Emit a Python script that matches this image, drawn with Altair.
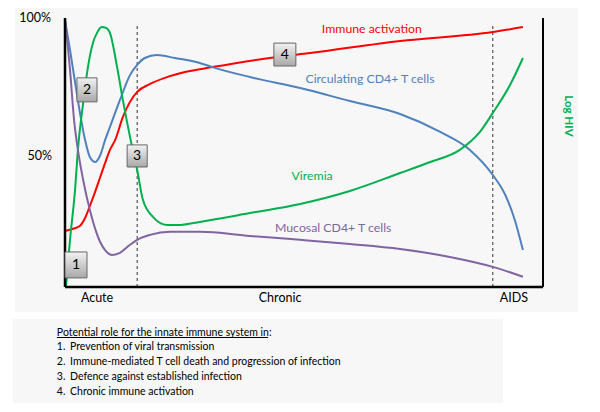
import altair as alt
import pandas as pd

# ---- series (time 0-100, level in %) ----
immune_t = [0, 1.7, 3.1, 4.2, 5.2, 6.3, 7.3, 8.4, 9.4, 10.5, 12.1, 13.6, 15.1, 17.8, 20.9, 25.1, 30.8, 44.4, 51.3, 70.1, 89.5, 95.8]
immune_v = [22.8, 23.6, 24.6, 27.5, 31.9, 37.0, 42.0, 47.5, 52.2, 55.8, 64.1, 69.6, 73.2, 76.1, 78.3, 80.4, 82.2, 85.9, 87.3, 91.7, 94.9, 96.7]

circ_t = [0, 1.05, 2.1, 3.1, 4.2, 5.2, 6.3, 7.3, 8.4, 9.4, 11.5, 13.6, 15.1, 16.7, 19.2, 23.0, 28.2, 30.8, 38.7, 49.2, 59.6, 70.1, 78.5, 84.7, 89.5, 92.1, 94.1, 95.8]
circ_v = [99.3, 88.4, 76.8, 65.9, 55.8, 49.6, 47.8, 50.0, 55.8, 60.5, 70.3, 79.3, 83.0, 85.5, 86.6, 85.5, 83.7, 82.2, 78.6, 74.6, 69.9, 65.2, 58.7, 52.2, 43.1, 35.9, 26.8, 15.9]

muc_t = [0, 1.05, 1.9, 2.7, 3.8, 5.2, 7.3, 8.6, 9.8, 11.5, 13.6, 15.1, 17.8, 22.0, 28.2, 38.7, 49.2, 59.6, 70.1, 80.5, 89.5, 95.8]
muc_v = [100, 81.2, 63.0, 52.2, 41.3, 30.4, 19.0, 15.4, 14.1, 14.9, 17.8, 19.6, 21.4, 22.5, 22.5, 21.0, 19.6, 18.1, 16.3, 13.4, 9.8, 6.2]

vir_t = [0.2, 1.05, 2.1, 2.7, 3.8, 4.8, 5.9, 6.7, 7.7, 8.6, 9.4, 10.9, 12.1, 13.6, 15.1, 16.3, 18.4, 21.3, 24.1, 28.2, 38.7, 49.2, 59.6, 70.1, 76.4, 82.6, 86.8, 89.5, 93.1, 95.8]
vir_v = [2.5, 19.6, 37.7, 52.2, 69.2, 82.2, 91.3, 94.6, 96.7, 96.4, 94.6, 82.2, 70.3, 56.9, 44.9, 34.1, 27.9, 25.0, 25.0, 26.1, 29.3, 32.6, 37.3, 43.8, 47.8, 52.2, 58.7, 65.6, 75.7, 85.5]

series_names = ["Immune activation", "Circulating CD4+ T cells", "Viremia", "Mucosal CD4+ T cells"]
series_colors = ["#ff0000", "#4f81bd", "#00b050", "#8064a2"]

phase_labels = ["Acute", "Chronic", "AIDS"]
phase_t = [6.7, 45.0, 93.9]
phase_lines = [15.1, 89.5]

tick_labels = ["100%", "50%"]
tick_values = [100, 50]

box_labels = ["1", "2", "3", "4"]
box_t1 = [0.0, 2.5, 13.0, 43.7]
box_t2 = [4.6, 6.7, 17.2, 48.3]
box_v1 = [5.8, 69.6, 46.0, 82.6]
box_v2 = [15.2, 78.3, 54.0, 90.9]

series_label_t = [64.2, 63.8, 51.7, 56.1]
series_label_v = [96.0, 77.9, 42.8, 23.9]

list_title = "Potential role for the innate immune system in:"
list_numbers = ["1.", "2.", "3.", "4."]
list_items = ["Prevention of viral transmission",
              "Immune-mediated T cell death and progression of infection",
              "Defence against established infection",
              "Chronic immune activation"]
list_v = [-19.2, -24.6, -30.1, -35.5]

# ---- tables ----
rows = []
for name, ts, vs in zip(series_names, [immune_t, circ_t, vir_t, muc_t], [immune_v, circ_v, vir_v, muc_v]):
    for i, (t, v) in enumerate(zip(ts, vs)):
        rows.append({"series": name, "t": t, "v": v, "order": i})
lines_df = pd.DataFrame(rows)

xs = alt.Scale(domain=[0, 100], range=[57, 535], nice=False, zero=False)
ys = alt.Scale(domain=[2.5, 100], range=[279, 10], nice=False, zero=False)
X = lambda f: alt.X(f, type="quantitative", scale=xs, axis=None)
Y = lambda f: alt.Y(f, type="quantitative", scale=ys, axis=None)
FONT = "Lato"
color_scale = alt.Scale(domain=series_names, range=series_colors)

panels = pd.DataFrame({"t1": [-10.5, -10.9], "t2": [107.3, 91.6], "v1": [-6.5, -39.5], "v2": [103.6, -9.1]})
panel_layer = alt.Chart(panels).mark_rect(color="#f7f7f7").encode(
    x=X("t1"), x2="t2", y=Y("v1"), y2="v2")

axis_df = pd.DataFrame({"t1": [0, 0, 100], "t2": [0, 100, 100], "v1": [2.5, 2.5, 2.5], "v2": [100, 2.5, 100], "w": [2.5, 2.5, 2]})
axis_layer = alt.Chart(axis_df).mark_rule(color="black").encode(
    x=X("t1"), x2="t2", y=Y("v1"), y2="v2", strokeWidth=alt.StrokeWidth("w:Q", scale=None))

dash_df = pd.DataFrame({"t": phase_lines, "v1": [2.5, 2.5], "v2": [97.8, 97.8]})
dash_layer = alt.Chart(dash_df).mark_rule(color="#333333", strokeDash=[3, 3], strokeWidth=1).encode(
    x=X("t"), y=Y("v1"), y2="v2")

line_layer = alt.Chart(lines_df).mark_line(interpolate="monotone", strokeWidth=2).encode(
    x=X("t"), y=Y("v"), order="order:Q",
    color=alt.Color("series:N", scale=color_scale, legend=None),
    detail="series:N")

boxes = pd.DataFrame({"label": box_labels, "t1": box_t1, "t2": box_t2, "v1": box_v1, "v2": box_v2})
boxes["tc"] = (boxes.t1 + boxes.t2) / 2
boxes["vc"] = (boxes.v1 + boxes.v2) / 2
grad = alt.Gradient(gradient="linear",
                    stops=[alt.GradientStop(color="#f2f2f2", offset=0), alt.GradientStop(color="#a8a8a8", offset=1)],
                    x1=0, x2=0, y1=0, y2=1)
box_layer = alt.Chart(boxes).mark_rect(fill=grad, stroke="#666666", strokeWidth=1).encode(
    x=X("t1"), x2="t2", y=Y("v1"), y2="v2")
box_text = alt.Chart(boxes).mark_text(font=FONT, fontSize=14, color="black", baseline="middle").encode(
    x=X("tc"), y=Y("vc"), text="label:N")

slab = pd.DataFrame({"series": series_names, "t": series_label_t, "v": series_label_v})
series_text = alt.Chart(slab).mark_text(font=FONT, fontSize=12.3, baseline="middle").encode(
    x=X("t"), y=Y("v"), text="series:N",
    color=alt.Color("series:N", scale=color_scale, legend=None))

ticks = pd.DataFrame({"label": tick_labels, "v": tick_values, "t": [-2.9, -2.7]})
tick_text = alt.Chart(ticks).mark_text(font=FONT, fontSize=12.5, align="right", baseline="middle", color="black").encode(
    x=X("t"), y=Y("v"), text="label:N")

phases = pd.DataFrame({"label": phase_labels, "t": phase_t, "v": [-1.4] * 3})
phase_text = alt.Chart(phases).mark_text(font=FONT, fontSize=12.5, baseline="middle", color="black").encode(
    x=X("t"), y=Y("v"), text="label:N")

loghiv = pd.DataFrame({"label": ["Log HIV"], "t": [105.2], "v": [64.5]})
loghiv_text = alt.Chart(loghiv).mark_text(font=FONT, fontSize=11.5, fontWeight="bold", angle=90,
                                          baseline="middle", color="#00b050").encode(
    x=X("t"), y=Y("v"), text="label:N")

title_df = pd.DataFrame({"label": [list_title], "t": [-1.7], "v": [-14.1]})
title_text = alt.Chart(title_df).mark_text(font=FONT, fontSize=10.5, align="left", baseline="middle", color="black").encode(
    x=X("t"), y=Y("v"), text="label:N")
ul = pd.DataFrame({"t1": [-1.7], "t2": [42.5], "v": [-15.8]})
ul_layer = alt.Chart(ul).mark_rule(color="black", strokeWidth=1).encode(x=X("t1"), x2="t2", y=Y("v"))

items = pd.DataFrame({"num": list_numbers, "item": list_items, "v": list_v})
items["tn"] = -1.7
items["ti"] = 1.05
num_text = alt.Chart(items).mark_text(font=FONT, fontSize=10.5, align="left", baseline="middle", color="black").encode(
    x=X("tn"), y=Y("v"), text="num:N")
item_text = alt.Chart(items).mark_text(font=FONT, fontSize=10.5, align="left", baseline="middle", color="black").encode(
    x=X("ti"), y=Y("v"), text="item:N")

chart = alt.layer(
    panel_layer, dash_layer, line_layer, axis_layer, box_layer, box_text, series_text,
    tick_text, phase_text, loghiv_text, title_text, ul_layer, num_text, item_text
).properties(
    width=584, height=396, padding=0, autosize=alt.AutoSizeParams(type="none"), background="white"
).configure_view(stroke=None)

chart.save("out.html", embed_options={"renderer": "svg", "actions": False})
